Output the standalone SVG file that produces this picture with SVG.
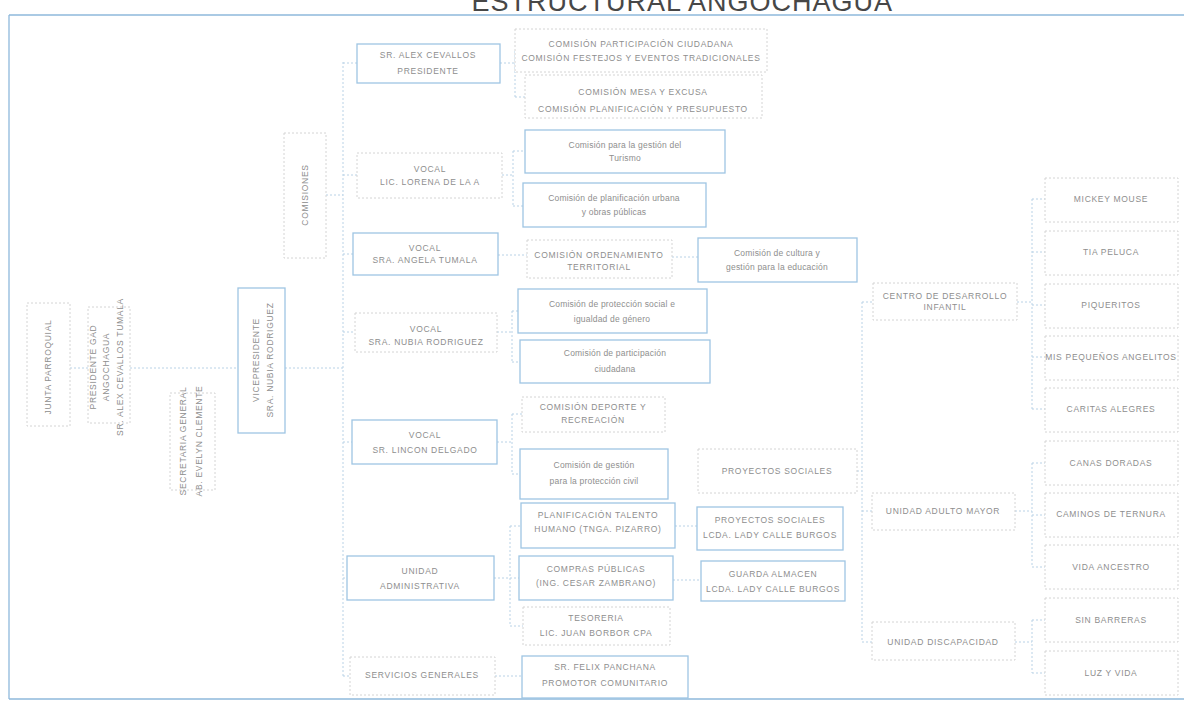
<svg xmlns="http://www.w3.org/2000/svg" width="1184" height="705" viewBox="0 0 1184 705">
<style>
.b{fill:#fff;stroke:#9fc5e3;stroke-width:1.3}
.g{fill:#fff;stroke:#d4d4d4;stroke-width:1;stroke-dasharray:2 2}
.t{font-family:"Liberation Sans",Arial,sans-serif;font-size:8.5px;fill:#8e8e8e;letter-spacing:.7px;text-anchor:middle}
.m{letter-spacing:.2px}
.c{fill:none;stroke:#b9d2e6;stroke-width:1;stroke-dasharray:2 2}
.f{fill:none;stroke:#8fb9dc;stroke-width:1.3}
.title{font-family:"Liberation Sans",Arial,sans-serif;font-size:27px;fill:#474747;letter-spacing:1px;text-anchor:end}
</style>
<rect width="1184" height="705" fill="#fff"/>
<text class="title" x="893" y="11">ESTRUCTURAL ANGOCHAGUA</text>
<path class="f" d="M9 15H1184M9 15V699M9 699H1184"/>

<g id="connectors">
<path class="c" d="M70 368H88M130 368H238M285 368H343"/>
<path class="c" d="M343 62V676"/>
<path class="c" d="M326 195H343"/>
<path class="c" d="M343 63H357M343 175H357M343 254H353M343 332H355M343 442H352M343 578H347M343 676H350"/>
<path class="c" d="M500 63H515M515 51V97M515 51H525M515 97H525"/>
<path class="c" d="M502 175H513M513 151V206M513 151H525M513 206H523"/>
<path class="c" d="M498 255H527M672 257H698"/>
<path class="c" d="M497 332H512M512 311V362M512 311H518M512 362H520"/>
<path class="c" d="M497 442H512M512 414V474M512 414H522M512 474H520"/>
<path class="c" d="M494 578H510M510 526V626M510 526H521M510 578H519M510 626H523"/>
<path class="c" d="M675 526H697M673 580H701"/>
<path class="c" d="M495 676H522"/>
<path class="c" d="M857 471H862M862 302V642M862 302H873M862 511H872M862 642H872"/>
<path class="c" d="M1017 302H1032M1032 199V409M1032 199H1045M1032 252H1045M1032 305H1045M1032 357H1045M1032 409H1045"/>
<path class="c" d="M1015 511H1032M1032 463V567M1032 463H1045M1032 515H1045M1032 567H1045"/>
<path class="c" d="M1015 642H1032M1032 620V673M1032 620H1045M1032 673H1045"/>
</g>

<g id="junta"><rect class="g" x="27" y="303" width="43" height="123"/>
<text class="t" transform="translate(51,367) rotate(-90)">JUNTA PARROQUIAL</text></g>
<g id="presidente-gad"><rect class="g" x="88" y="307" width="42" height="116"/>
<text class="t" transform="translate(110,367) rotate(-90)"><tspan x="0" y="-14">PRESIDENTE GAD</tspan><tspan x="0" y="-1">ANGOCHAGUA</tspan><tspan x="0" y="13">SR. ALEX CEVALLOS TUMALA</tspan></text></g>
<g id="secretaria"><rect class="g" x="170" y="393" width="45" height="97"/>
<text class="t" transform="translate(192,441) rotate(-90)"><tspan x="0" y="-6">SECRETARIA GENERAL</tspan><tspan x="0" y="10">AB. EVELYN CLEMENTE</tspan></text></g>
<g id="vicepresidente"><rect class="b" x="238" y="288" width="47" height="145"/>
<text class="t" transform="translate(263,360) rotate(-90)"><tspan x="0" y="-4">VICEPRESIDENTE</tspan><tspan x="0" y="10">SRA. NUBIA RODRIGUEZ</tspan></text></g>
<g id="comisiones"><rect class="g" x="284" y="133" width="42" height="125"/>
<text class="t" transform="translate(308,195) rotate(-90)">COMISIONES</text></g>

<g id="presidente"><rect class="b" x="357" y="44" width="143" height="39"/>
<text class="t"><tspan x="428" y="58">SR. ALEX CEVALLOS</tspan><tspan x="428" y="74">PRESIDENTE</tspan></text></g>
<g id="com-participacion"><rect class="g" x="515" y="29" width="252" height="43"/>
<text class="t"><tspan x="641" y="47">COMISIÓN PARTICIPACIÓN CIUDADANA</tspan><tspan x="641" y="61">COMISIÓN FESTEJOS Y EVENTOS TRADICIONALES</tspan></text></g>
<g id="com-mesa"><rect class="g" x="525" y="75" width="237" height="43"/>
<text class="t"><tspan x="643" y="95">COMISIÓN MESA Y EXCUSA</tspan><tspan x="643" y="112">COMISIÓN PLANIFICACIÓN Y PRESUPUESTO</tspan></text></g>

<g id="vocal-lorena"><rect class="g" x="357" y="153" width="145" height="45"/>
<text class="t"><tspan x="430" y="172">VOCAL</tspan><tspan x="430" y="185">LIC. LORENA DE LA A</tspan></text></g>
<g id="com-turismo"><rect class="b" x="525" y="130" width="200" height="43"/>
<text class="t m"><tspan x="625" y="148">Comisión para la gestión del</tspan><tspan x="625" y="161">Turismo</tspan></text></g>
<g id="com-urbana"><rect class="b" x="523" y="183" width="183" height="44"/>
<text class="t m"><tspan x="614" y="201">Comisión de planificación urbana</tspan><tspan x="614" y="215">y obras públicas</tspan></text></g>

<g id="vocal-angela"><rect class="b" x="353" y="233" width="145" height="42"/>
<text class="t"><tspan x="425" y="251">VOCAL</tspan><tspan x="425" y="263">SRA. ANGELA TUMALA</tspan></text></g>
<g id="com-ordenamiento"><rect class="g" x="527" y="240" width="145" height="38"/>
<text class="t"><tspan x="599" y="258">COMISIÓN  ORDENAMIENTO</tspan><tspan x="599" y="270">TERRITORIAL</tspan></text></g>
<g id="com-cultura"><rect class="b" x="698" y="238" width="159" height="44"/>
<text class="t m"><tspan x="777" y="256">Comisión de cultura y</tspan><tspan x="777" y="270">gestión para la educación</tspan></text></g>

<g id="com-genero"><rect class="b" x="518" y="289" width="189" height="44"/>
<text class="t m"><tspan x="612" y="307">Comisión de protección social e</tspan><tspan x="612" y="322">igualdad de género</tspan></text></g>
<g id="vocal-nubia"><rect class="g" x="355" y="313" width="142" height="39"/>
<text class="t"><tspan x="426" y="332">VOCAL</tspan><tspan x="426" y="345">SRA. NUBIA RODRIGUEZ</tspan></text></g>
<g id="com-participacion2"><rect class="b" x="520" y="340" width="190" height="43"/>
<text class="t m"><tspan x="615" y="356">Comisión de participación</tspan><tspan x="615" y="372">ciudadana</tspan></text></g>

<g id="com-deporte"><rect class="g" x="522" y="397" width="143" height="35"/>
<text class="t"><tspan x="593" y="410">COMISIÓN  DEPORTE Y</tspan><tspan x="593" y="423">RECREACIÓN</tspan></text></g>
<g id="vocal-lincon"><rect class="b" x="352" y="420" width="145" height="44"/>
<text class="t"><tspan x="425" y="438">VOCAL</tspan><tspan x="425" y="453">SR. LINCON DELGADO</tspan></text></g>
<g id="com-civil"><rect class="b" x="520" y="449" width="148" height="50"/>
<text class="t m"><tspan x="594" y="468">Comisión de gestión</tspan><tspan x="594" y="484">para la protección civil</tspan></text></g>
<g id="proyectos"><rect class="g" x="698" y="449" width="159" height="44"/>
<text class="t"><tspan x="777" y="474">PROYECTOS SOCIALES</tspan></text></g>

<g id="talento"><rect class="b" x="521" y="503" width="154" height="45"/>
<text class="t"><tspan x="598" y="518">PLANIFICACIÓN TALENTO</tspan><tspan x="598" y="532">HUMANO (TNGA. PIZARRO)</tspan></text></g>
<g id="proyectos-lcda"><rect class="b" x="697" y="507" width="146" height="43"/>
<text class="t"><tspan x="770" y="523">PROYECTOS SOCIALES</tspan><tspan x="770" y="538">LCDA. LADY CALLE BURGOS</tspan></text></g>
<g id="unidad-admin"><rect class="b" x="347" y="556" width="147" height="44"/>
<text class="t"><tspan x="420" y="574">UNIDAD</tspan><tspan x="420" y="589">ADMINISTRATIVA</tspan></text></g>
<g id="compras"><rect class="b" x="519" y="556" width="154" height="44"/>
<text class="t"><tspan x="596" y="572">COMPRAS PÚBLICAS</tspan><tspan x="596" y="586">(ING. CESAR ZAMBRANO)</tspan></text></g>
<g id="guarda"><rect class="b" x="701" y="561" width="144" height="40"/>
<text class="t"><tspan x="773" y="577">GUARDA ALMACEN</tspan><tspan x="773" y="592">LCDA. LADY CALLE BURGOS</tspan></text></g>
<g id="tesoreria"><rect class="g" x="523" y="607" width="147" height="38"/>
<text class="t"><tspan x="596" y="621">TESORERIA</tspan><tspan x="596" y="636">LIC. JUAN BORBOR CPA</tspan></text></g>
<g id="servicios"><rect class="g" x="350" y="657" width="145" height="38"/>
<text class="t"><tspan x="422" y="678">SERVICIOS GENERALES</tspan></text></g>
<g id="felix"><rect class="b" x="522" y="656" width="166" height="42"/>
<text class="t"><tspan x="605" y="670">SR. FELIX PANCHANA</tspan><tspan x="605" y="686">PROMOTOR COMUNITARIO</tspan></text></g>

<g id="cdi"><rect class="g" x="873" y="283" width="144" height="37"/>
<text class="t"><tspan x="945" y="299">CENTRO DE DESARROLLO</tspan><tspan x="945" y="310">INFANTIL</tspan></text></g>
<g id="adulto"><rect class="g" x="872" y="493" width="143" height="37"/>
<text class="t"><tspan x="943" y="514">UNIDAD ADULTO MAYOR</tspan></text></g>
<g id="discapacidad"><rect class="g" x="872" y="622" width="143" height="38"/>
<text class="t"><tspan x="943" y="645">UNIDAD DISCAPACIDAD</tspan></text></g>

<g id="mickey"><rect class="g" x="1045" y="178" width="133" height="44"/><text class="t" x="1111" y="202">MICKEY MOUSE</text></g>
<g id="tia"><rect class="g" x="1045" y="231" width="133" height="44"/><text class="t" x="1111" y="255">TIA PELUCA</text></g>
<g id="piqueritos"><rect class="g" x="1045" y="284" width="133" height="44"/><text class="t" x="1111" y="308">PIQUERITOS</text></g>
<g id="angelitos"><rect class="g" x="1045" y="336" width="133" height="44"/><text class="t" x="1111" y="360">MIS PEQUEÑOS ANGELITOS</text></g>
<g id="caritas"><rect class="g" x="1045" y="388" width="133" height="44"/><text class="t" x="1111" y="412">CARITAS ALEGRES</text></g>
<g id="canas"><rect class="g" x="1045" y="441" width="133" height="44"/><text class="t" x="1111" y="466">CANAS DORADAS</text></g>
<g id="caminos"><rect class="g" x="1045" y="493" width="133" height="44"/><text class="t" x="1111" y="517">CAMINOS DE TERNURA</text></g>
<g id="vida"><rect class="g" x="1045" y="545" width="133" height="44"/><text class="t" x="1111" y="570">VIDA ANCESTRO</text></g>
<g id="sin-barreras"><rect class="g" x="1045" y="598" width="133" height="44"/><text class="t" x="1111" y="623">SIN BARRERAS</text></g>
<g id="luz"><rect class="g" x="1045" y="651" width="133" height="44"/><text class="t" x="1111" y="676">LUZ Y VIDA</text></g>
</svg>
